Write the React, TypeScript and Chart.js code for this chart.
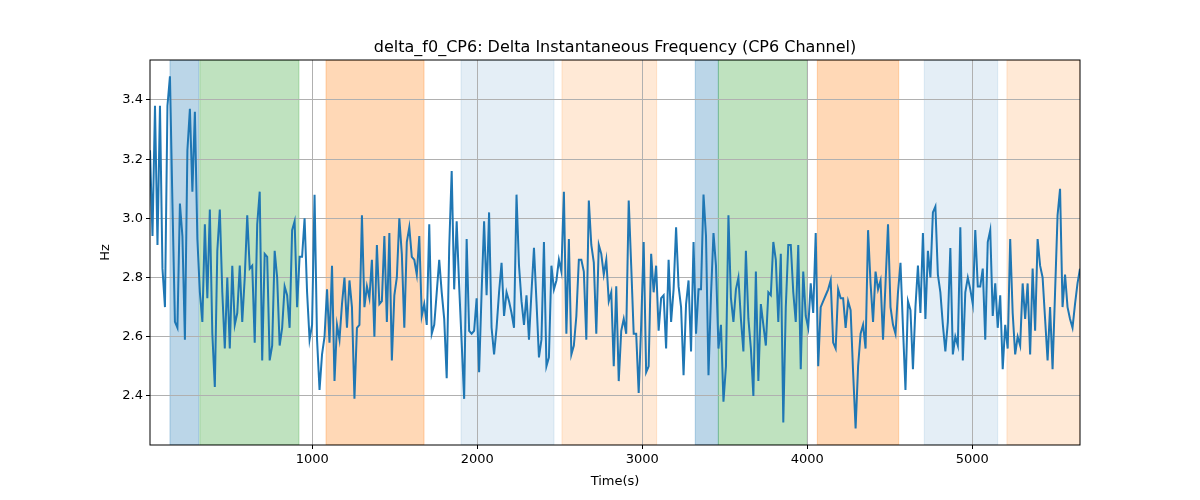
import React, { useRef, useEffect } from 'react';
import { Chart, registerables, type ChartConfiguration, type Plugin } from 'chart.js';

Chart.register(...registerables);

// Axis range (seconds) covered by the samples
const timeStart = 16;
const timeEnd = 5653;

// delta f0 (Hz), left to right
const deltaF0Part1 = [
  3.23, 2.94, 3.38, 2.91, 3.38, 2.83, 2.70, 3.38, 3.48, 3.05, 2.65, 2.63, 3.05, 2.94, 2.59, 3.23,
  3.37, 3.09, 3.36, 2.93, 2.75, 2.65, 2.98, 2.73, 3.03, 2.61, 2.43, 2.89, 3.03, 2.75, 2.56, 2.80,
  2.56, 2.84, 2.64, 2.68, 2.84, 2.65, 2.80, 3.01, 2.83, 2.84, 2.58, 2.98, 3.09, 2.52, 2.88, 2.87,
  2.52, 2.57, 2.89, 2.80, 2.57, 2.63, 2.77, 2.74, 2.63, 2.96, 2.99, 2.70, 2.87, 2.87,
];
const deltaF0Part2 = [
  3.00, 2.75, 2.59, 2.64, 3.08, 2.59, 2.42, 2.54, 2.60, 2.76, 2.58, 2.84, 2.45, 2.64, 2.59, 2.71,
  2.80, 2.63, 2.79, 2.70, 2.39, 2.63, 2.64, 3.01, 2.70, 2.77, 2.73, 2.86, 2.60, 2.91, 2.71, 2.72,
  2.94, 2.65, 2.95, 2.52, 2.74, 2.80, 3.00, 2.88, 2.63, 2.92, 2.97, 2.87, 2.86, 2.81, 2.94, 2.67,
  2.71, 2.64, 2.98, 2.61, 2.64, 2.75, 2.86, 2.75, 2.66, 2.46, 2.90, 3.16, 2.76, 2.99,
];
const deltaF0Part3 = [
  2.77, 2.58, 2.39, 2.93, 2.62, 2.61, 2.62, 2.73, 2.48, 2.75, 2.99, 2.74, 3.02, 2.63, 2.54, 2.63,
  2.75, 2.85, 2.67, 2.75, 2.72, 2.68, 2.63, 3.08, 2.84, 2.72, 2.64, 2.74, 2.59, 2.75, 2.90, 2.72,
  2.53, 2.59, 2.92, 2.50, 2.53, 2.84, 2.76, 2.79, 2.86, 2.82, 3.09, 2.61, 2.93, 2.54, 2.57, 2.67,
  2.86, 2.86, 2.82, 2.59, 3.06, 2.91, 2.85, 2.61, 2.91, 2.88, 2.81, 2.86, 2.72, 2.75, 2.50, 2.77,
];
const deltaF0Part4 = [
  2.45, 2.62, 2.66, 2.61, 3.06, 2.84, 2.61, 2.61, 2.41, 2.64, 2.92, 2.48, 2.50, 2.88, 2.75, 2.84,
  2.62, 2.73, 2.74, 2.56, 2.86, 2.65, 2.76, 2.97, 2.77, 2.70, 2.47, 2.71, 2.79, 2.55, 2.92, 2.61,
  2.76, 2.76, 3.08, 2.94, 2.47, 2.74, 2.95, 2.84, 2.56, 2.64, 2.38, 2.50, 3.01, 2.73, 2.65, 2.76,
  2.80, 2.66, 2.55, 2.89, 2.66, 2.56, 2.40, 2.82, 2.45, 2.71, 2.64, 2.57, 2.75, 2.74, 2.92,
];
const deltaF0Part5 = [
  2.86, 2.65, 2.88, 2.31, 2.70, 2.91, 2.91, 2.75, 2.65, 2.91, 2.49, 2.82, 2.67, 2.63, 2.78, 2.68,
  2.95, 2.50, 2.70, 2.72, 2.74, 2.76, 2.79, 2.58, 2.56, 2.76, 2.73, 2.73, 2.63, 2.72, 2.69, 2.48,
  2.29, 2.50, 2.61, 2.64, 2.56, 2.96, 2.78, 2.65, 2.82, 2.76, 2.79, 2.59, 2.78, 2.98, 2.70, 2.64,
  2.61, 2.75, 2.85, 2.63, 2.42, 2.72, 2.69, 2.49, 2.70, 2.84, 2.68,
];
const deltaF0Part6 = [
  2.95, 2.66, 2.89, 2.80, 3.02, 3.04, 2.81, 2.75, 2.64, 2.55, 2.65, 2.90, 2.54, 2.60, 2.57, 2.97,
  2.52, 2.75, 2.80, 2.76, 2.71, 2.96, 2.77, 2.77, 2.83, 2.59, 2.92, 2.96, 2.67, 2.78, 2.63, 2.74,
  2.49, 2.64, 2.56, 2.93, 2.68, 2.54, 2.60, 2.57, 2.78, 2.66, 2.78, 2.54, 2.83, 2.62, 2.93, 2.84,
  2.80, 2.66, 2.52, 2.70, 2.49, 2.75, 3.01, 3.10, 2.70, 2.81, 2.70, 2.66, 2.63, 2.71, 2.78, 2.83,
];

// Shaded segments (seconds) and their kind
const spanStart = [137, 318, 1083, 1901, 2513, 3321, 3461, 4061, 4709, 5210];
const spanEnd = [312, 919, 1677, 2465, 3087, 3461, 4000, 4554, 5154, 5653];
const spanKind = ['blueA', 'green', 'orange', 'blueB', 'orangeB', 'blueA', 'green', 'orange', 'blueB', 'orangeB'];

const yTicks = [2.4, 2.6, 2.8, 3.0, 3.2, 3.4];
const xTicks = [1000, 2000, 3000, 4000, 5000];

const spanFill: Record<string, string> = {
  blueA: 'rgba(31,119,180,0.3)',
  green: 'rgba(44,160,44,0.3)',
  orange: 'rgba(255,127,14,0.3)',
  blueB: 'rgba(31,119,180,0.12)',
  orangeB: 'rgba(255,127,14,0.17)',
};

const FONT = "'DejaVu Sans', sans-serif";

const spansPlugin: Plugin<'line'> = {
  id: 'spans',
  beforeDraw(chart) {
    const { ctx, chartArea, scales } = chart;
    const x = scales.x;
    ctx.save();
    ctx.beginPath();
    ctx.rect(chartArea.left, chartArea.top, chartArea.right - chartArea.left, chartArea.bottom - chartArea.top);
    ctx.clip();
    spanStart.forEach((s, i) => {
      const x0 = x.getPixelForValue(s);
      const x1 = x.getPixelForValue(spanEnd[i]);
      ctx.fillStyle = spanFill[spanKind[i]];
      ctx.fillRect(x0, chartArea.top, x1 - x0, chartArea.bottom - chartArea.top);
      ctx.strokeStyle = spanFill[spanKind[i]];
      ctx.lineWidth = 1;
      ctx.strokeRect(x0, chartArea.top, x1 - x0, chartArea.bottom - chartArea.top);
    });
    ctx.restore();
  },
};

const framePlugin: Plugin<'line'> = {
  id: 'frame',
  afterDraw(chart) {
    const { ctx, chartArea } = chart;
    ctx.save();
    ctx.strokeStyle = '#000';
    ctx.lineWidth = 1;
    ctx.strokeRect(chartArea.left, chartArea.top, chartArea.right - chartArea.left, chartArea.bottom - chartArea.top);
    ctx.fillStyle = '#000';
    ctx.font = `16px ${FONT}`;
    ctx.textAlign = 'center';
    ctx.textBaseline = 'alphabetic';
    ctx.fillText(
      'delta_f0_CP6: Delta Instantaneous Frequency (CP6 Channel)',
      (chartArea.left + chartArea.right) / 2,
      chartArea.top - 8
    );
    ctx.restore();
  },
};

const App: React.FC = () => {
  const chartRef = useRef<HTMLCanvasElement>(null);
  const chartInstance = useRef<Chart | null>(null);

  useEffect(() => {
    if (!chartRef.current) return;
    if (chartInstance.current) {
      chartInstance.current.destroy();
      chartInstance.current = null;
    }

    const values = [
      ...deltaF0Part1, ...deltaF0Part2, ...deltaF0Part3,
      ...deltaF0Part4, ...deltaF0Part5, ...deltaF0Part6,
    ];
    const step = (timeEnd - timeStart) / (values.length - 1);
    const points = values.map((v, i) => ({ x: timeStart + i * step, y: v }));

    const config: ChartConfiguration<'line'> = {
      type: 'line',
      data: {
        datasets: [{
          data: points,
          borderColor: '#1f77b4',
          borderWidth: 2,
          pointRadius: 0,
          tension: 0,
          fill: false,
        }],
      },
      options: {
        animation: false,
        responsive: true,
        maintainAspectRatio: false,
        layout: { padding: { left: 0, right: 120, top: 60, bottom: 0 } },
        plugins: {
          legend: { display: false },
          tooltip: { enabled: false },
        },
        scales: {
          x: {
            type: 'linear',
            min: timeStart,
            max: timeEnd,
            afterFit: (s) => { s.height = 55; },
            afterBuildTicks: (s) => { s.ticks = xTicks.map((v) => ({ value: v })); },
            grid: { color: '#b0b0b0', lineWidth: 1, tickColor: '#000', tickLength: 4 },
            border: { display: false },
            ticks: {
              color: '#000',
              padding: 3,
              maxRotation: 0,
              font: { family: FONT, size: 13 },
              callback: (v) => String(v),
            },
            title: {
              display: true,
              text: 'Time(s)',
              color: '#000',
              font: { family: FONT, size: 13 },
              padding: { top: 0, bottom: 11 },
            },
          },
          y: {
            type: 'linear',
            min: 2.234,
            max: 3.535,
            afterFit: (s) => { s.width = 150; },
            afterBuildTicks: (s) => { s.ticks = yTicks.map((v) => ({ value: v })); },
            grid: { color: '#b0b0b0', lineWidth: 1, tickColor: '#000', tickLength: 4 },
            border: { display: false },
            ticks: {
              color: '#000',
              padding: 3,
              font: { family: FONT, size: 13 },
              callback: (v) => Number(v).toFixed(1),
            },
            title: {
              display: true,
              text: 'Hz',
              color: '#000',
              font: { family: FONT, size: 13 },
              padding: { top: 98, bottom: 0 },
            },
          },
        },
      },
      plugins: [spansPlugin, framePlugin],
    };

    chartInstance.current = new Chart(chartRef.current, config);

    return () => {
      if (chartInstance.current) {
        chartInstance.current.destroy();
        chartInstance.current = null;
      }
    };
  }, []);

  return (
    <div style={{ position: 'absolute', left: 0, top: 0, width: 1200, height: 500, background: '#fff' }}>
      <canvas ref={chartRef} />
    </div>
  );
};

export default App;
